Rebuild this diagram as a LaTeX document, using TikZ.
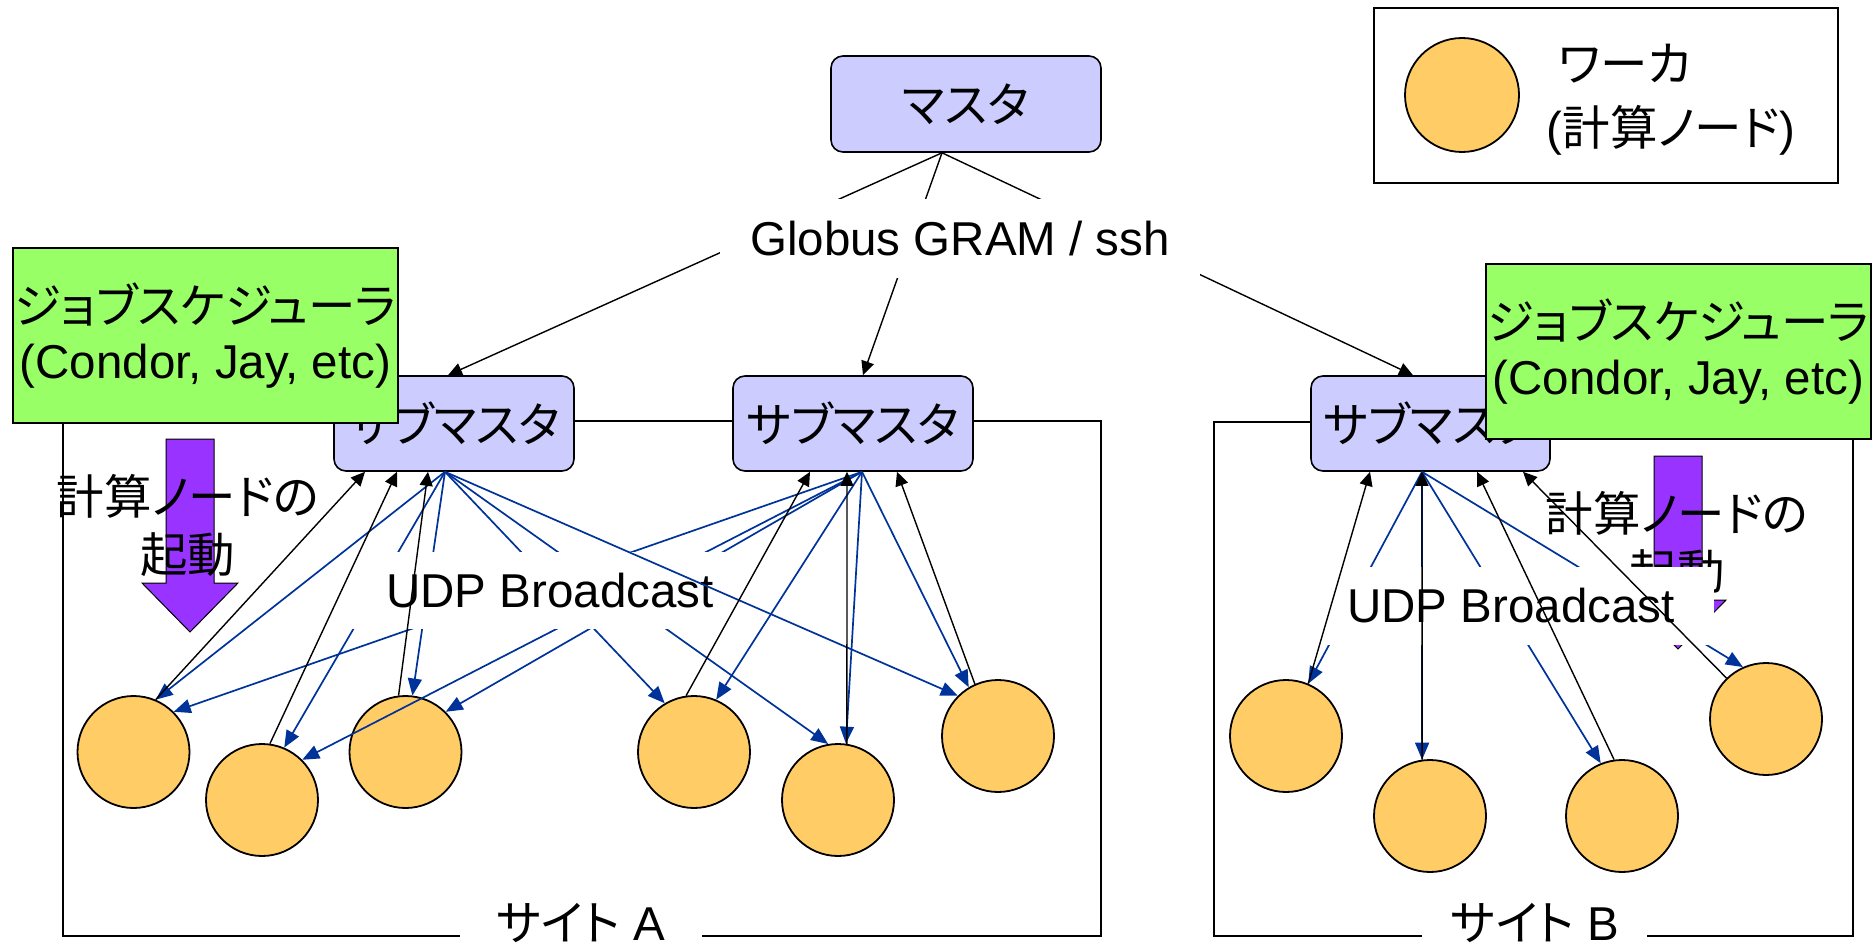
\documentclass[tikz,border=0pt]{standalone}
\usepackage{fontspec}
\setmainfont{Liberation Sans}
\newfontfamily\jp[RawFeature=+palt]{Noto Sans CJK JP}
\usetikzlibrary{arrows.meta}

\definecolor{boxblue}{HTML}{CCCCFF}
\definecolor{schedgreen}{HTML}{99FF66}
\definecolor{workerfill}{HTML}{FFCC66}
\definecolor{launchpurple}{HTML}{9933FF}
\definecolor{bcastblue}{HTML}{003399}

\newcommand\bigtxt{\fontsize{23.75pt}{29pt}\selectfont}

\begin{document}
\begin{tikzpicture}[x=0.5pt,y=-0.5pt,
  frame/.style={draw, line width=1pt},
  mbox/.style={draw, line width=0.8pt, fill=boxblue, rounded corners=6pt,
    minimum width=120pt, minimum height=47.5pt, inner sep=0pt, font=\bigtxt\jp},
  worker/.style={circle, draw, line width=0.9pt, fill=workerfill,
    minimum size=56pt, inner sep=0pt},
  bcast/.style={draw=bcastblue, line width=0.85pt, -{Triangle[length=8.5pt,width=7pt]}},
  reply/.style={draw=black, line width=0.7pt, -{Triangle[length=7pt,width=6.5pt]}},
  lbl/.style={fill=white, inner sep=0pt, font=\bigtxt},
  sched/.style={draw, line width=0.8pt, fill=schedgreen, minimum width=192.5pt,
    minimum height=87.5pt, inner sep=0pt, align=center,
    font=\fontsize{23.75pt}{27.5pt}\selectfont},
  launch/.style={draw, line width=0.5pt, fill=launchpurple},
  note/.style={inner sep=0pt, align=center, font=\fontsize{23.75pt}{29pt}\selectfont\jp},
]
\useasboundingbox (0,0) rectangle (1872,947);

% site frames
\draw[frame] (460,936) -| (63,421) -| (1101,936) -- (702,936);
\draw[frame] (1422,936) -| (1214,422) -| (1853,936) -- (1647,936);
\node[inner sep=0pt, font=\bigtxt] (siteA) at (581,923) {{\jp サイト} A};
\node[inner sep=0pt, font=\bigtxt] (siteB) at (1535,923) {{\jp サイト} B};

% master and sub-masters
\node[mbox, minimum width=135pt, minimum height=48pt] (master) at (966,104) {マスタ};
\node[mbox] (sm1) at (454,423.5) {サブマスタ};
\node[mbox] (sm2) at (853,423.5) {サブマスタ};
\node[mbox, minimum width=119.5pt] (sm3) at (1430.5,423.5) {サブマスタ};

% remote launch from the master
\draw[reply] ([xshift=-12pt]master.south) -- ([xshift=-3pt]sm1.north);
\draw[reply] ([xshift=-12pt]master.south) -- ([xshift=5pt]sm2.north);
\draw[reply] ([xshift=-12pt]master.south) -- ([xshift=-8.75pt]sm3.north);
\node[lbl, minimum width=240pt, minimum height=39.5pt] (gram) at (960,238.5) {Globus GRAM / ssh};

% workers
\foreach \n/\x/\y in {w1/133.5/752, w2/262/800, w3/405.5/752, w4/694/752,
    w5/838/800, w6/998/736, b1/1286/736, b2/1430/816, b3/1622/816, b4/1766/719}
  \node[worker] (\n) at (\x,\y) {};

% node start-up by the local job scheduler
\draw[launch] (166,439) -- (214,439) -- (214,583) -- (238,583) -- (190,632)
  -- (142,583) -- (166,583) -- cycle;
\draw[launch] (1654,456) -- (1702,456) -- (1702,600) -- (1726,600) -- (1678,649)
  -- (1630,600) -- (1654,600) -- cycle;
\node[note] (launchA) at (188,525.5) {計算ノードの\\起動};
\node[note] (launchB) at (1677,542.5) {計算ノードの\\起動};

% broadcasts hidden behind the labels
\draw[bcast] ([xshift=-4.5pt]sm1.south) -- (w2.67);
\draw[bcast] ([xshift=-4.5pt]sm1.south) -- (w3.83);
\draw[bcast] ([xshift=-4.5pt]sm1.south) -- (w4.121);
\draw[bcast] ([xshift=-4.5pt]sm1.south) -- (w5.100);
\draw[bcast] ([xshift=4.5pt]sm2.south) -- (w1.45);
\draw[bcast] ([xshift=4.5pt]sm2.south) -- (w2.45);
\draw[bcast] ([xshift=4.5pt]sm2.south) -- (w3.45);
\draw[bcast] ([xshift=-4.25pt]sm3.south) -- (b1.67);
\draw[bcast] ([xshift=-4.25pt]sm3.south) -- (b2.98);
\draw[bcast] ([xshift=-4.25pt]sm3.south) -- (b3.112);
\draw[bcast] ([xshift=-4.25pt]sm3.south) -- (b4.114);

\node[lbl, minimum width=203pt, minimum height=38.5pt] (udpA) at (550,590.5) {UDP Broadcast};
\node[lbl, minimum width=203pt, minimum height=39pt] (udpB) at (1511,606) {UDP Broadcast};

% broadcasts drawn over the labels
\draw[bcast] ([xshift=-4.5pt]sm1.south) -- (w1.67);
\draw[bcast] ([xshift=-4.5pt]sm1.south) -- (w6.135);
\draw[bcast] ([xshift=4.5pt]sm2.south) -- (w4.67);
\draw[bcast] ([xshift=4.5pt]sm2.south) -- (w5.82);
\draw[bcast] ([xshift=4.5pt]sm2.south) -- (w6.121);

% workers registering with their sub-master
\draw[reply] (w1.67) -- ([xshift=-44.5pt]sm1.south);
\draw[reply] (w2.82) -- ([xshift=-28.5pt]sm1.south);
\draw[reply] (w3.97) -- ([xshift=-13pt]sm1.south);
\draw[reply] (w4.98) -- ([xshift=-21.5pt]sm2.south);
\draw[reply] (w5.81) -- ([xshift=-3pt]sm2.south);
\draw[reply] (w6.114) -- ([xshift=22pt]sm2.south);
\draw[reply] (b1.67) -- ([xshift=-30.25pt]sm3.south);
\draw[reply] (b2.98) -- ([xshift=-4.25pt]sm3.south);
\draw[reply] (b3.98) -- ([xshift=23.25pt]sm3.south);
\draw[reply] (b4.134) -- ([xshift=46.25pt]sm3.south);

% job schedulers
\node[sched] (g1) at (205.5,335.5) {{\jp ジョブスケジューラ}\\(Condor, Jay, etc)};
\node[sched] (g2) at (1678.5,351.5) {{\jp ジョブスケジューラ}\\(Condor, Jay, etc)};

% legend
\node[draw, line width=0.8pt, minimum width=232pt, minimum height=87.5pt, inner sep=0pt]
  (legend) at (1606,95.5) {};
\node[worker, minimum size=57pt] (legworker) at (1462,95) {};
\node[inner sep=0pt, font=\bigtxt\jp] (legname) at (1625,64) {ワーカ};
\node[inner sep=0pt, font=\bigtxt] (legnote) at (1671,130) {({\jp 計算ノード})};
\end{tikzpicture}
\end{document}
